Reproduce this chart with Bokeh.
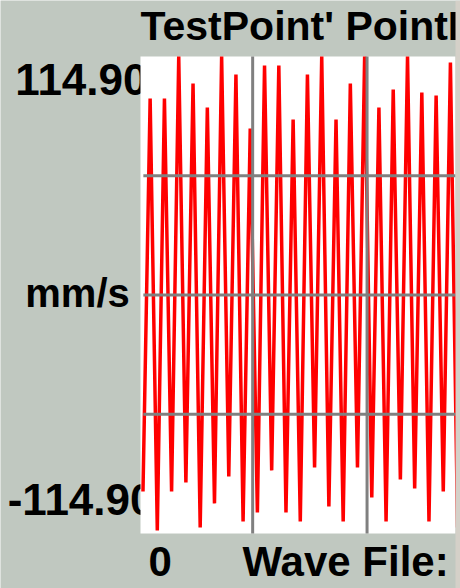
from bokeh.plotting import figure
from bokeh.models import Range1d, Label, BoxAnnotation
from bokeh.embed import file_html
from bokeh.resources import INLINE

# ---- data ----
sample_index = list(range(45))
velocity_mm_s = [-94.7, 94.7, -113.5, 94.7, -94.7, 114.9, -90.3, 101.9, -112.0, 90.3,
                 -100.4, 114.9, -87.4, 106.2, -109.1, 80.2, -104.8, 110.6, -84.5, 110.6,
                 -104.8, 84.5, -109.1, 106.2, -83.1, 114.9, -101.9, 84.5, -109.1, 101.9,
                 -83.1, 114.9, -97.6, 90.3, -109.1, 99.0, -88.9, 114.9, -93.2, 97.6,
                 -109.1, 96.1, -94.7, 112.0, -112.0]
y_limit = 114.9
y_grid_values = [-57.45, 0.0, 57.45]
x_grid_values = [15.34, 31.34]

title_text = "TestPoint' PointI"
y_top_text = "114.90"
y_bottom_text = "-114.90"
unit_text = "mm/s"
x_start_text = "0"
footer_text = "Wave File:"

# ---- view / style ----
W, H = 460, 588
x_view = (-19.93, 44.41)          # whole canvas in sample units
y_view = (-141.40, 141.88)        # whole canvas in mm/s
plot_x = (-0.35, 43.71)           # white plotting area
BG = "#c0c8c0"
EDGE = "#d4d0c8"
FONT = "Liberation Sans"
TXT_SHIFT = 16                    # baseline correction for label placement

p = figure(width=W, height=H, output_backend="svg", toolbar_location=None,
           x_range=Range1d(*x_view), y_range=Range1d(*y_view),
           x_axis_location=None, y_axis_location=None,
           min_border=0, min_border_left=0, min_border_right=0,
           min_border_top=0, min_border_bottom=0,
           background_fill_color=BG, border_fill_color=BG, outline_line_color=None)
p.xgrid.visible = False
p.ygrid.visible = False

def lab(text, x, baseline_y, size, align, level="annotation"):
    l = Label(x=x, y=H - baseline_y + TXT_SHIFT, x_units="screen", y_units="screen", text=text,
              text_font=FONT, text_font_style="bold", text_font_size=size,
              text_color="black", text_align=align, text_baseline="alphabetic", level=level)
    p.add_layout(l)

# range labels sit partly under the white plotting area
lab(y_top_text, 147, 95, "44px", "right", level="image")
lab(y_bottom_text, 154, 515, "44px", "right", level="image")

white = BoxAnnotation(left=plot_x[0], right=plot_x[1], bottom=-y_limit, top=y_limit,
                      fill_color="white", fill_alpha=1.0, line_color=None, level="underlay")
p.add_layout(white)

# waveform
p.line(sample_index, velocity_mm_s, line_color="#ff0000", line_width=3.5)

# grid lines drawn over the waveform
gx0 = plot_x[0] + 0.4
p.segment(x0=[gx0] * len(y_grid_values), y0=y_grid_values,
          x1=[plot_x[1]] * len(y_grid_values), y1=y_grid_values,
          line_color="#808080", line_width=3)
p.segment(x0=x_grid_values, y0=[-y_limit] * len(x_grid_values),
          x1=x_grid_values, y1=[y_limit] * len(x_grid_values),
          line_color="#808080", line_width=3)

lab(title_text, 140, 41, "41px", "left")
lab(unit_text, 77, 308, "40px", "center")
lab(x_start_text, 148, 577, "42px", "left")
lab(footer_text, 242, 577, "42px", "left")

# window edge at the right
edge = BoxAnnotation(left=plot_x[1], right=x_view[1], bottom=y_view[0], top=y_view[1],
                     fill_color=EDGE, fill_alpha=1.0, line_color=None, level="overlay")
p.add_layout(edge)

open("out.html", "w").write(file_html(p, INLINE))
